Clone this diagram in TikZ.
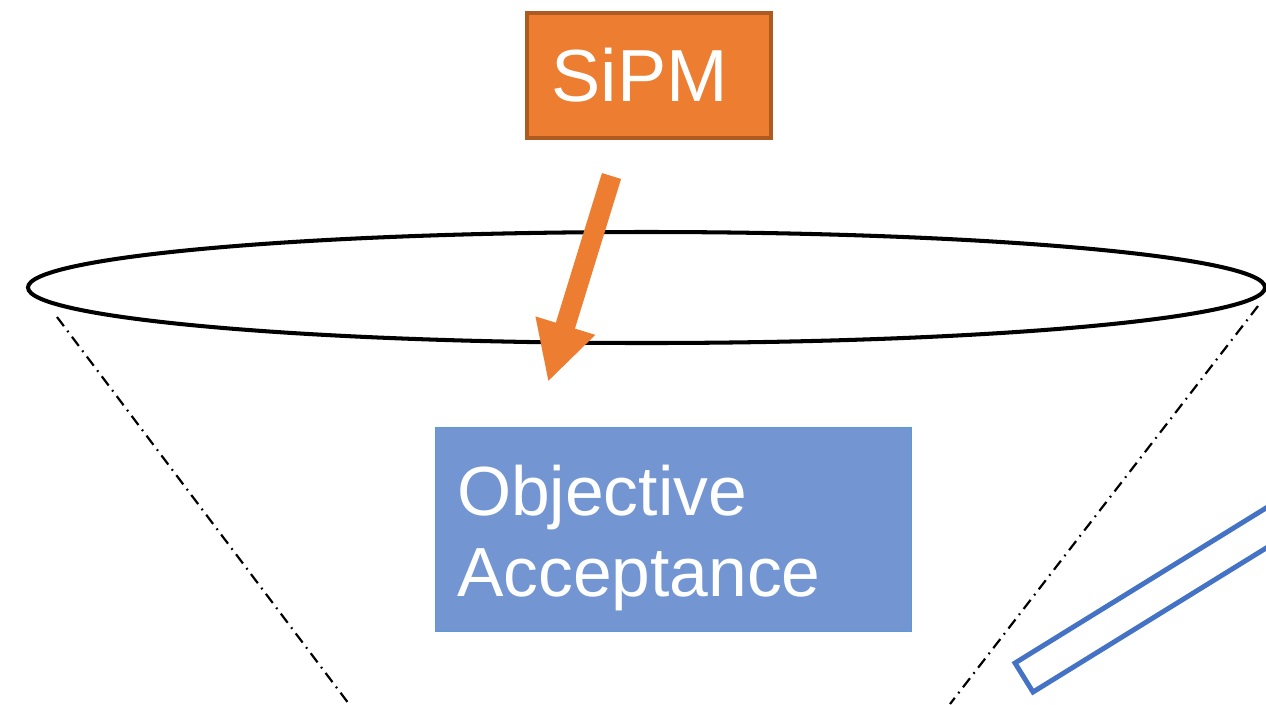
\documentclass[tikz,border=0pt]{standalone}
\usepackage{fontspec}
\setmainfont{Liberation Sans}
\usetikzlibrary{arrows.meta,positioning}

\tikzset{
  sipmbox/.style={draw=sipmline, line width=2.5pt, fill=sipmfill, text=white,
    font=\fontsize{42}{48}\selectfont, minimum width=4.88cm, minimum height=2.5cm,
    text width=3.9cm, align=left, inner xsep=0.48cm},
  accbox/.style={draw=accline, line width=0.6pt, fill=accfill, text=white,
    font=\fontsize{39.6}{46.5}\selectfont, minimum width=9.52cm, minimum height=4.08cm,
    text width=8.66cm, align=left, inner xsep=0.43cm},
  conedash/.style={line width=1.25pt, dash pattern=on 6.5pt off 3.3pt on 1pt off 3.3pt},
}

\begin{document}
\begin{tikzpicture}[x=0.02cm,y=-0.02cm]
\useasboundingbox (0,0) rectangle (1266,704);
%% Colours
\definecolor{sipmfill}{RGB}{237,125,49}
\definecolor{sipmline}{RGB}{174,90,33}
\definecolor{accfill}{RGB}{115,150,211}
\definecolor{accline}{RGB}{91,155,213}
\definecolor{barblue}{RGB}{68,114,196}
%% Cone opening
\draw[line width=2.3pt] (646.5,287.5) ellipse [x radius=618.5, y radius=55.5];
\draw[conedash] (57,317)--(349,704);
\draw[conedash] (1258,306)--(950,704);
%% Boxes
\node[sipmbox] (sipm) at (649,75.5) {SiPM};
\node[accbox] (acc) at (673.5,529.5) {\rule{0pt}{38.5pt}Objective\\Acceptance};
%% Photon arrow
\coordinate (phstart) at (611.5,176);
\coordinate (phend) at (548,382);
\draw[sipmfill, line width=0.4cm, -{Triangle[length=1.18cm, width=1.16cm]}] (phstart)--(phend);
%% Bar
\draw[barblue, line width=2.8pt] (1015,663)--(1033,692)--(1373,482)--(1355,453)--cycle;
\end{tikzpicture}
\end{document}
